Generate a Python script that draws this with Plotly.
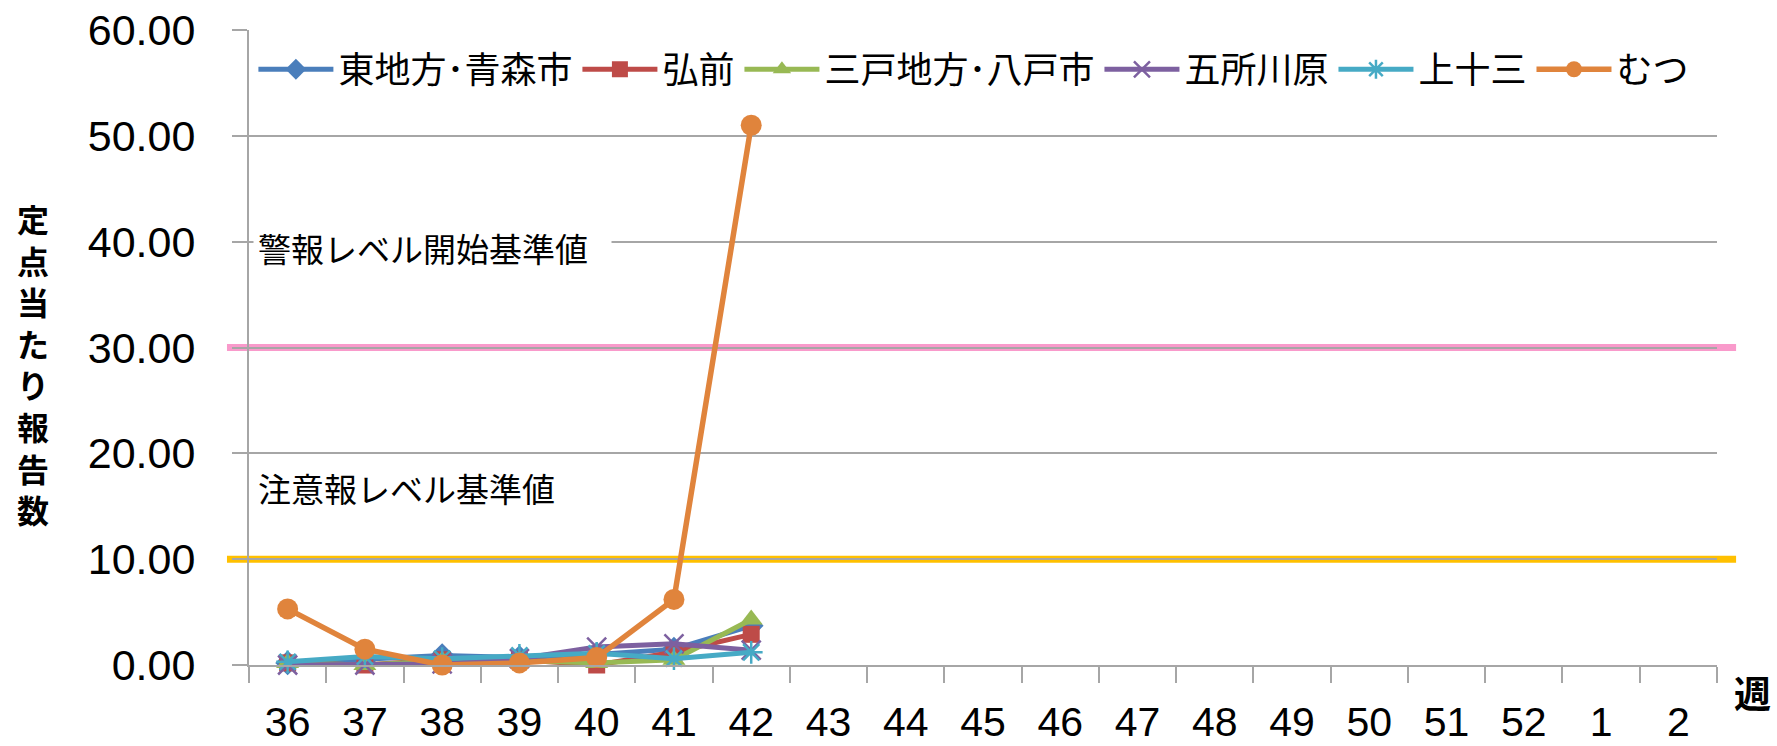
import plotly.graph_objects as go

weeks = ["36", "37", "38", "39", "40", "41", "42", "43", "44", "45", "46",
         "47", "48", "49", "50", "51", "52", "1", "2"]
data_weeks = weeks[:7]

series_names = ["東地方･青森市", "弘前", "三戸地方･八戸市", "五所川原", "上十三", "むつ"]
higashi = [0.2, 0.5, 0.9, 0.7, 1.0, 1.5, 3.7]
hirosaki = [0.2, 0.0, 0.5, 0.5, 0.0, 1.2, 2.9]
sannohe = [0.2, 0.0, 0.4, 0.4, 0.2, 0.5, 4.3]
goshogawara = [0.0, 0.0, 0.1, 0.6, 1.7, 2.0, 1.4]
kamijusan = [0.3, 0.8, 0.6, 0.9, 1.1, 0.6, 1.2]
mutsu = [5.3, 1.5, 0.0, 0.2, 0.7, 6.2, 51.0]

warning_level = 30.0
caution_level = 10.0
warning_label = "警報レベル開始基準値"
caution_label = "注意報レベル基準値"
y_title = "定点当たり報告数"
x_title = "週"

colors = ["#4A7EBB", "#BE4B48", "#98B954", "#7D60A0", "#46AAC5", "#E0843C"]
symbols = ["diamond", "square", "triangle-up", "x-thin", "asterisk", "circle"]
sizes = [19, 17, 20, 19, 19, 21]
values = [higashi, hirosaki, sannohe, goshogawara, kamijusan, mutsu]

JP = "Noto Sans CJK JP"
NUM = "Liberation Sans"
GRID = "#A6A6A6"

fig = go.Figure()
for name, vals, c, s, sz in zip(series_names, values, colors, symbols, sizes):
    open_sym = s in ("x-thin", "asterisk")
    fig.add_trace(go.Scatter(
        x=data_weeks, y=vals, name=name, mode="lines+markers",
        line=dict(color=c, width=5.5 if name == "むつ" else 5),
        marker=dict(symbol=s, size=sz, color=c,
                    line=dict(color=c, width=2.5 if open_sym else 0)),
        cliponaxis=False,
    ))

for lvl, col in ((warning_level, "#F99ACB"), (caution_level, "#FFC000")):
    fig.add_shape(type="line", xref="paper", yref="y", x0=-0.015, x1=1.013,
                  y0=lvl, y1=lvl, line=dict(color=col, width=7), layer="between")

fig.add_annotation(text=warning_label, xref="paper", yref="y", x=0.003, y=40,
                   yshift=-6, xanchor="left", yanchor="middle", showarrow=False,
                   align="left", width=349, bgcolor="white", borderpad=4,
                   font=dict(family=JP, size=33, color="black"))
fig.add_annotation(text=caution_label, xref="paper", yref="y", x=0.005, y=16.7,
                   xanchor="left", yanchor="middle", showarrow=False,
                   font=dict(family=JP, size=33, color="black"))
fig.add_annotation(text="<br>".join(list(y_title)), xref="paper", yref="paper",
                   x=-0.147, y=0.475, xanchor="center", yanchor="middle",
                   showarrow=False,
                   font=dict(family=JP, size=32, color="black", weight="bold"))
fig.add_annotation(text=x_title, xref="paper", yref="paper", x=1.038, y=-0.0425,
                   xanchor="right", yanchor="middle", showarrow=False,
                   font=dict(family=JP, size=37, color="black", weight="bold"))

fig.update_layout(
    width=1777, height=746,
    margin=dict(l=249, r=60, t=30, b=81),
    paper_bgcolor="white", plot_bgcolor="white",
    showlegend=True,
    legend=dict(orientation="h", x=0.003, y=0.938, xanchor="left", yanchor="middle",
                font=dict(family=JP, size=36, color="black"),
                bgcolor="rgba(0,0,0,0)", itemwidth=75, tracegroupgap=0),
    xaxis=dict(type="category", categoryorder="array", categoryarray=weeks,
               range=[-0.5, len(weeks) - 0.5], tickson="boundaries",
               ticks="outside", ticklen=16, tickwidth=2, tickcolor=GRID,
               showline=True, linecolor=GRID, linewidth=2, showgrid=False,
               tickfont=dict(family=NUM, size=41, color="black"),
               ticklabelstandoff=20, automargin=False),
    yaxis=dict(range=[0, 60], dtick=10, tickformat=".2f",
               ticks="outside", ticklen=15, tickwidth=2, tickcolor=GRID,
               showline=True, linecolor=GRID, linewidth=2,
               showgrid=True, gridcolor=GRID, gridwidth=2, zeroline=False,
               tickfont=dict(family=NUM, size=43, color="black"),
               ticklabelstandoff=28, automargin=False),
)

fig.write_html("out.html",
               config={"displayModeBar": False},
               post_script="document.body.style.margin='0';"
                           "document.body.style.overflow='hidden';")
